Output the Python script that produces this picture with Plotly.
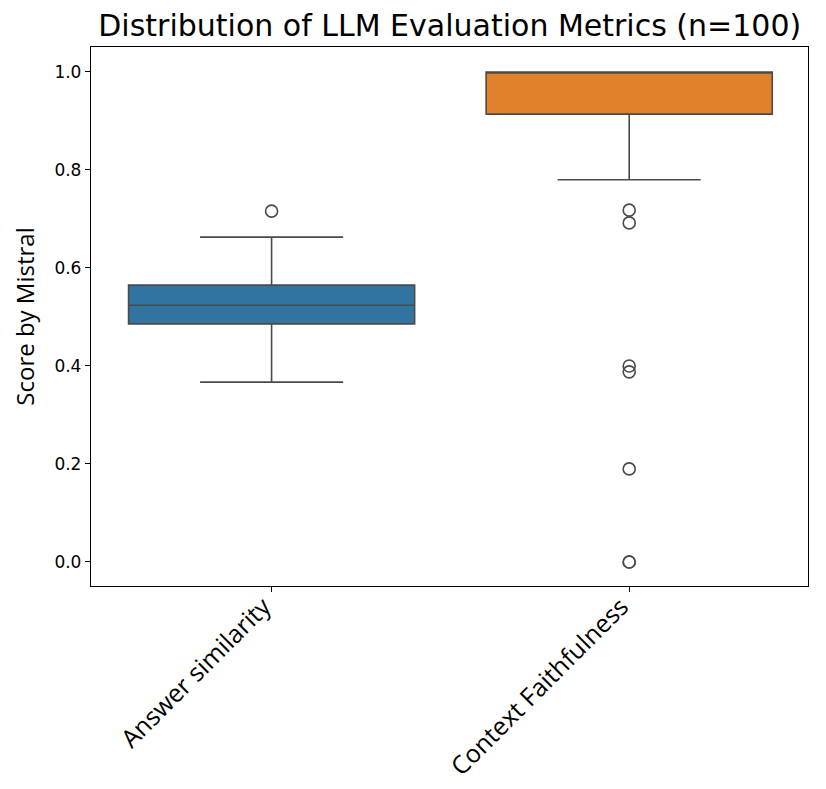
import plotly.graph_objects as go

categories = ["Answer similarity", "Context Faithfulness"]
colors = ["#3274a1", "#e1812c"]
q1 = [0.486, 0.914]
median = [0.524, 1.0]
q3 = [0.565, 1.0]
lower_fence = [0.367, 0.780]
upper_fence = [0.663, 1.0]
outliers = [
    [0.716],
    [0.718, 0.692, 0.400, 0.388, 0.190, 0.0, 0.0],
]

LINE = "#4a4a4a"
fig = go.Figure()
for i, cat in enumerate(categories):
    fig.add_trace(go.Box(
        x=[cat], q1=[q1[i]], median=[median[i]], q3=[q3[i]],
        lowerfence=[lower_fence[i]], upperfence=[upper_fence[i]],
        fillcolor=colors[i], line=dict(color=LINE, width=1.6),
        width=0.8, whiskerwidth=0.5, boxpoints=False, showlegend=False,
        hoverinfo="skip",
    ))
    fig.add_trace(go.Scatter(
        x=[cat] * len(outliers[i]), y=outliers[i], mode="markers",
        marker=dict(symbol="circle-open", size=12, color=LINE, line=dict(width=1.6)),
        showlegend=False, hoverinfo="skip",
    ))

fig.update_layout(
    width=818, height=781,
    margin=dict(l=83, r=18, t=39, b=203),
    paper_bgcolor="white", plot_bgcolor="white",
    boxmode="overlay",
    font=dict(family="DejaVu Sans", color="black"),
    title=dict(text="Distribution of LLM Evaluation Metrics (n=100)",
               x=0.540, xanchor="center", y=0.978, yanchor="middle",
               font=dict(size=30, color="black")),
    xaxis=dict(type="category", categoryorder="array", categoryarray=categories,
               range=[-0.505, 1.5], showline=True, linecolor="black", linewidth=1.3,
               mirror=True, ticks="outside", ticklen=5, tickcolor="black",
               tickangle=-45, tickfont=dict(size=25, family="Open Sans"),
               ticklabelstandoff=-10, ticklabelshift=-8,
               showgrid=False, zeroline=False, automargin=False),
    yaxis=dict(range=[-0.049, 1.051], tickvals=[0, 0.2, 0.4, 0.6, 0.8, 1.0],
               ticktext=["0.0", "0.2", "0.4", "0.6", "0.8", "1.0"],
               showline=True, linecolor="black", linewidth=1.3, mirror=True,
               ticks="outside", ticklen=5, tickcolor="black", tickfont=dict(size=17),
               title=dict(text="Score by Mistral", font=dict(size=24, family="Open Sans"),
                          standoff=16),
               showgrid=False, zeroline=False, automargin=False),
)

fig.write_html("out.html")
